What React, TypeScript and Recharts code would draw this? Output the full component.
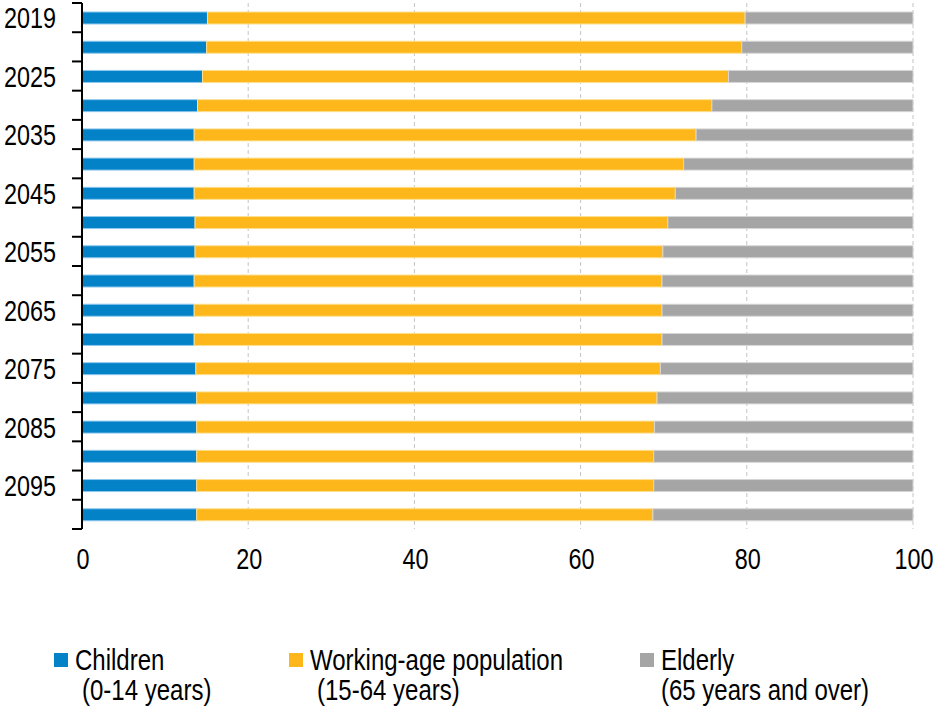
import { BarChart, Bar, XAxis, YAxis, CartesianGrid, Legend } from "recharts";

const years = [
  "2019", "2020", "2025", "2030", "2035", "2040", "2045", "2050", "2055",
  "2060", "2065", "2070", "2075", "2080", "2085", "2090", "2095", "2100",
];
const children = [15.1, 15.0, 14.5, 13.9, 13.5, 13.5, 13.5, 13.6, 13.6, 13.5, 13.5, 13.5, 13.7, 13.8, 13.8, 13.8, 13.8, 13.8];
const working = [64.7, 64.4, 63.3, 61.9, 60.4, 58.9, 57.9, 56.9, 56.3, 56.3, 56.3, 56.3, 55.9, 55.4, 55.1, 55.0, 55.0, 54.9];
const elderly = [20.2, 20.6, 22.2, 24.2, 26.1, 27.6, 28.6, 29.5, 30.1, 30.2, 30.2, 30.2, 30.4, 30.8, 31.1, 31.2, 31.2, 31.3];
const xTicks = [0, 20, 40, 60, 80, 100];

const seriesKeys = ["children", "working", "elderly"];
const seriesNames = ["Children", "Working-age population", "Elderly"];
const subLabels = ["(0-14 years)", "(15-64 years)", "(65 years and over)"];
const fills = ["#0482c8", "#fdb71a", "#a5a5a5"];
const strokes = ["#8dc8ee", "#fde08f", "#d6d6d6"];

const data = years.map((year, i) => ({
  year,
  children: children[i],
  working: working[i],
  elderly: elderly[i],
}));

// no Arial Narrow here, so squeeze Liberation Sans sideways
const FONT = "'Liberation Sans', Arial, sans-serif";
const FONT_SIZE = 30;
const SQUEEZE = 0.78;
const LEGEND_SQUEEZE = 0.8;
const PLOT_H = 526;

const YTick = (props: any) => {
  const { x, y, payload, index } = props;
  const half = payload.offset ?? PLOT_H / years.length / 2;
  const last = index === years.length - 1;
  return (
    <g>
      <line x1={x - 10} x2={x} y1={y - half} y2={y - half} stroke="#000" strokeWidth={2} />
      {last && <line x1={x - 10} x2={x} y1={y + half} y2={y + half} stroke="#000" strokeWidth={2} />}
      {index % 2 === 0 && (
        <text
          transform={`translate(${x - 26},${y}) scale(${SQUEEZE},1)`}
          dy="0.36em"
          textAnchor="end"
          fill="#000"
          fontSize={FONT_SIZE}
          fontFamily={FONT}
        >
          {payload.value}
        </text>
      )}
    </g>
  );
};

const XTick = (props: any) => {
  const { x, y, payload } = props;
  return (
    <text
      transform={`translate(${x + 1},${y}) scale(${SQUEEZE},1)`}
      dy="0.71em"
      textAnchor="middle"
      fill="#000"
      fontSize={FONT_SIZE}
      fontFamily={FONT}
    >
      {payload.value}
    </text>
  );
};

const legendLeft = [54, 289, 640];

const squeezed = {
  display: "inline-block",
  transform: `scaleX(${LEGEND_SQUEEZE})`,
  transformOrigin: "left center",
  whiteSpace: "nowrap" as const,
};

const renderLegend = () => (
  <div style={{ position: "relative", width: 913, height: 119, fontFamily: FONT, fontSize: FONT_SIZE, color: "#000" }}>
    {seriesNames.map((name, i) => (
      <div key={name} style={{ position: "absolute", left: legendLeft[i], top: 56, lineHeight: "30px", width: 300 }}>
        <div style={{ display: "flex", alignItems: "center" }}>
          <span style={{ display: "inline-block", width: 14, height: 14, background: fills[i], marginRight: 7, flex: "none" }} />
          <span style={squeezed}>{name}</span>
        </div>
        <div style={{ paddingLeft: i === 2 ? 21 : 28 }}>
          <span style={squeezed}>{subLabels[i]}</span>
        </div>
      </div>
    ))}
  </div>
);

const App = () => {
  return (
    <div style={{ position: "absolute", left: 0, top: 0, background: "#fff" }}>
      <BarChart
        width={937}
        height={708}
        data={data}
        layout="vertical"
        margin={{ top: 3, right: 24, bottom: 0, left: 0 }}
      >
        <CartesianGrid horizontal={false} stroke="#c4c4c4" strokeDasharray="4 3" />
        <XAxis
          type="number"
          domain={[0, 100]}
          ticks={xTicks}
          axisLine={false}
          tickLine={false}
          tickSize={0}
          tickMargin={19}
          height={60}
          tick={<XTick />}
        />
        <YAxis
          type="category"
          dataKey="year"
          width={82}
          interval={0}
          tickLine={false}
          tickSize={0}
          tickMargin={0}
          axisLine={{ stroke: "#000", strokeWidth: 2 }}
          tick={<YTick />}
        />
        <Legend verticalAlign="bottom" content={renderLegend} />
        {seriesKeys.map((key, i) => (
          <Bar
            key={key}
            dataKey={key}
            name={seriesNames[i]}
            stackId="a"
            fill={fills[i]}
            stroke={strokes[i]}
            barSize={12}
            isAnimationActive={false}
          />
        ))}
      </BarChart>
    </div>
  );
};

export default App;
